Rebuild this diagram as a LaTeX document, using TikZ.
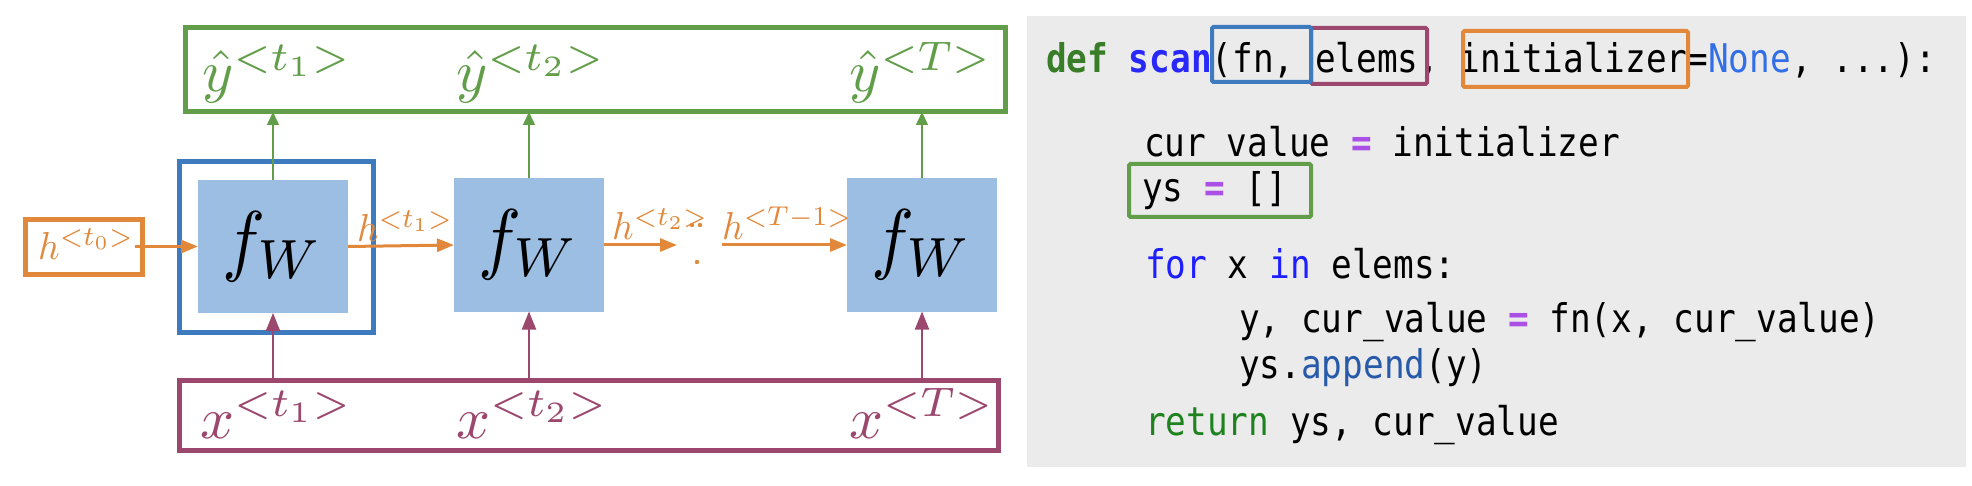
\documentclass[tikz,border=0pt]{standalone}
\usepackage{graphicx}
\usepackage{fontspec}
\usetikzlibrary{arrows.meta}
\newfontfamily\codefont[FakeStretch=0.870]{DejaVu Sans Mono}
\definecolor{orcol}{RGB}{226,136,58}
\definecolor{grcol}{RGB}{98,158,74}
\definecolor{blcol}{RGB}{61,122,190}
\definecolor{pucol}{RGB}{156,72,110}
\definecolor{fwfill}{RGB}{155,190,226}
\definecolor{codebg}{RGB}{235,235,235}
\definecolor{defgreen}{RGB}{58,125,40}
\definecolor{scanblue}{RGB}{40,40,250}
\definecolor{noneblue}{RGB}{50,110,230}
\definecolor{eqpurple}{RGB}{170,80,230}
\definecolor{kwblue}{RGB}{30,30,255}
\definecolor{appblue}{RGB}{40,90,170}
\definecolor{retgreen}{RGB}{30,130,30}
\newcommand{\fwtext}{\scalebox{7.2}[7.9]{$f_W$}}
\newcommand{\biglab}[1]{\scalebox{5.95}[5.9]{$#1$}}
\newcommand{\hlabtext}[1]{\scalebox{3.75}[3.9]{$#1$}}
\tikzset{
  fwbox/.style={fill=fwfill, minimum width=150pt, minimum height=133pt, inner sep=0pt, outer sep=0pt},
  hilite/.style={draw=#1, line width=5pt, inner sep=0pt, outer sep=0pt},
  bigtxt/.style={text=#1, anchor=base west, inner sep=0pt},
  hlab/.style={text=orcol, anchor=base west, inner sep=0pt},
  orarrow/.style={draw=orcol, line width=3pt, -{Triangle[length=17pt,width=13pt]}},
  grarrow/.style={draw=grcol, line width=1.5pt, -{Triangle[length=13pt,width=12pt]}},
  puarrow/.style={draw=pucol, line width=2pt, -{Triangle[length=18pt,width=14pt]}},
  codeline/.style={anchor=base west, inner sep=0pt, font=\codefont\fontsize{39.5}{41}\selectfont},
  codebox/.style={draw=#1, line width=4pt, rounded corners=1.5pt}
}
\begin{document}
\begin{tikzpicture}[x=1pt,y=-1pt]
\useasboundingbox (0,0) rectangle (1972,486);
\fill[white] (0,0) rectangle (1972,486);
% ---------- left diagram ----------
\node[fwbox] (f1) at (273,246.5) {\fwtext};
\node[fwbox] (f2) at (529,245) {\fwtext};
\node[fwbox] (f3) at (922,245) {\fwtext};
\node[hilite=grcol, minimum width=820pt, minimum height=84pt] (gbox) at (595,70) {};
\node[hilite=pucol, minimum width=819pt, minimum height=70pt] (pbox) at (588.5,415) {};
\node[hilite=blcol, minimum width=194pt, minimum height=170pt] (bbox) at (276,247) {};
\node[hilite=orcol, minimum width=117pt, minimum height=55pt] (obox) at (83.5,247.5) {};
% output labels
\node[bigtxt=grcol] (y1) at (202,92) {\biglab{\hat{y}^{<t_1>}}};
\node[bigtxt=grcol] (y2) at (456,92) {\biglab{\hat{y}^{<t_2>}}};
\node[bigtxt=grcol] (y3) at (849,92) {\biglab{\hat{y}^{<T>}}};
% input labels
\node[bigtxt=pucol] (x1) at (200,438) {\biglab{x^{<t_1>}}};
\node[bigtxt=pucol] (x2) at (456,438) {\biglab{x^{<t_2>}}};
\node[bigtxt=pucol] (x3) at (849,438) {\biglab{x^{<T>}}};
% hidden-state labels
\node[hlab] (h0) at (38,260) {\hlabtext{h^{<t_0>}}};
\node[hlab] (h1) at (357,242) {\hlabtext{h^{<t_1>}}};
\node[hlab] (h2) at (612,240) {\hlabtext{h^{<t_2>}}};
\node[hlab] (hT) at (722,240) {\hlabtext{h^{<T-1>}}};
\coordinate (c1) at (677,245);
\coordinate (c2) at (722,245);
% arrows
\draw[orarrow] (h0.east |- f1.west) -- (f1.west);
\draw[orarrow] (f1.east) -- (f2.west);
\draw[orarrow] (f2.east) -- (c1);
\draw[orarrow] (c2) -- (f3.west);
\fill[orcol] (692,225) circle (2.2pt) (700,225) circle (2.2pt) (697,262) circle (2.2pt);
\foreach \f in {f1,f2,f3}{
  \draw[grarrow] (\f.north) -- (\f.north |- gbox.south);
  \draw[puarrow] (\f.south |- pbox.north) -- (\f.south);
}
% ---------- code panel ----------
\fill[codebg] (1027,16) rectangle (1966,467);
\node[codeline] (l1) at (1046,73) {\textcolor{defgreen}{\bfseries def} \textcolor{scanblue}{\bfseries scan}(fn, elems, initializer=\textcolor{noneblue}{None}, ...):};
\node[codeline] (l2) at (1144,157) {cur\_value \textcolor{eqpurple}{\bfseries =} initializer};
\node[codeline] (l3) at (1142,202) {ys \textcolor{eqpurple}{\bfseries =} []};
\node[codeline] (l4) at (1145,279) {\textcolor{kwblue}{for} x \textcolor{kwblue}{in} elems:};
\node[codeline] (l5) at (1239,332) {y, cur\_value \textcolor{eqpurple}{\bfseries =} fn(x, cur\_value)};
\node[codeline] (l6) at (1239,378) {ys.\textcolor{appblue}{append}(y)};
\node[codeline] (l7) at (1145,435) {\textcolor{retgreen}{return} ys, cur\_value};
\draw[codebox=pucol] (1311,28) rectangle (1427,84);
\draw[codebox=blcol] (1212,27) rectangle (1311,82);
\draw[codebox=orcol] (1463,31) rectangle (1688,87);
\draw[codebox=grcol] (1129,164) rectangle (1311,217);
\end{tikzpicture}
\end{document}
